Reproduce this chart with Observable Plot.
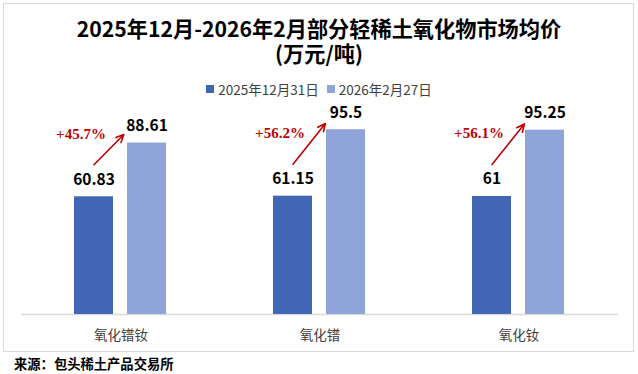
<!DOCTYPE html>
<html><head><meta charset="utf-8">
<script src="https://cdn.jsdelivr.net/npm/d3@7"></script>
<script src="https://cdn.jsdelivr.net/npm/@observablehq/plot@0.6"></script>
<style>
body{margin:0;background:#fff;font-family:"Noto Sans CJK SC","Noto Sans",sans-serif;}
#wrap{position:relative;width:638px;height:374px;overflow:hidden;background:#fff}
#frame{position:absolute;left:3px;top:3px;width:631px;height:349px;border:1.5px solid #d9d9d9;box-sizing:border-box}
.title{position:absolute;left:0;width:638px;text-align:center;font-weight:bold;font-size:21.2px;line-height:22px;height:22px;color:#000;white-space:nowrap}
#t1{top:17px}
#t2{top:42px}
#legend{position:absolute;top:80px;left:0;width:638px;display:flex;justify-content:center;align-items:center;font-size:13.5px;color:#404040;line-height:18px}
#legend .sw{display:inline-block;width:8px;height:8px;margin-right:4px}
#legend .item{display:flex;align-items:center;margin:0 4px}
#chart{position:absolute;left:0;top:96px}
#footer{position:absolute;left:14px;top:355px;font-weight:bold;font-size:13.3px;line-height:18px;color:#000}
</style>
</head><body>
<div id="wrap">
  <div id="frame"></div>
  <div class="title" id="t1">2025年12月-2026年2月部分轻稀土氧化物市场均价</div>
  <div class="title" id="t2">(万元/吨)</div>
  <div id="legend"></div>
  <div id="chart"></div>
  <div id="footer">来源：包头稀土产品交易所</div>
</div>
<script>
const categories = ["氧化镨钕", "氧化镨", "氧化钕"];
const seriesNames = ["2025年12月31日", "2026年2月27日"];
const dec2025 = [60.83, 61.15, 61];
const feb2026 = [88.61, 95.5, 95.25];
const changeLabels = ["+45.7%", "+56.2%", "+56.1%"];
const colors = ["#4166B3", "#8FA4D8"];

const rows = categories.flatMap((c, i) => [
  {cat: c, series: seriesNames[0], value: dec2025[i]},
  {cat: c, series: seriesNames[1], value: feb2026[i]}
]);
const pairs = categories.map((c, i) => ({cat: c, a: dec2025[i], b: feb2026[i], label: changeLabels[i]}));

const legend = document.getElementById("legend");
seriesNames.forEach((s, i) => {
  const it = document.createElement("div");
  it.className = "item";
  it.innerHTML = `<span class="sw" style="background:${colors[i]}"></span><span>${s}</span>`;
  legend.appendChild(it);
});

const chart = Plot.plot({
  width: 638,
  height: 250,
  marginTop: 24.5,
  marginBottom: 32,
  marginLeft: 20,
  marginRight: 19,
  style: {fontFamily: '"Noto Sans CJK SC","Noto Sans",sans-serif', fontSize: "13.5px", color: "#404040", background: "transparent"},
  fx: {domain: categories, padding: 0, label: null, axis: "bottom", tickSize: 0, tickPadding: 16},
  x: {domain: seriesNames, paddingInner: 0.26, paddingOuter: 0.98, axis: null},
  y: {domain: [0, 100], axis: null},
  color: {domain: seriesNames, range: colors},
  marks: [
    Plot.ruleY([0], {stroke: "#d9d9d9", strokeWidth: 1.5}),
    Plot.barY(rows, {fx: "cat", x: "series", y: "value", fill: "series"}),
    Plot.text(rows, {fx: "cat", x: "series", y: "value", text: d => String(d.value), dy: -17, fontWeight: "bold", fontSize: 15.5, fill: "#000"}),
    Plot.text(pairs, {fx: "cat", x: () => seriesNames[0], y: "a", text: "label", dy: -63, dx: -13, fontFamily: '"Liberation Serif","Times New Roman",serif', fontWeight: "bold", fontSize: 15, fill: "#C00000"}),
    Plot.arrow(pairs, {fx: "cat", x1: () => seriesNames[0], x2: () => seriesNames[1], y1: "a", y2: "b", dy: -32, insetEnd: 33, stroke: "#C00000", strokeWidth: 1.6, headLength: 8, headAngle: 50})
  ]
});
document.getElementById("chart").appendChild(chart);
</script>
</body></html>
